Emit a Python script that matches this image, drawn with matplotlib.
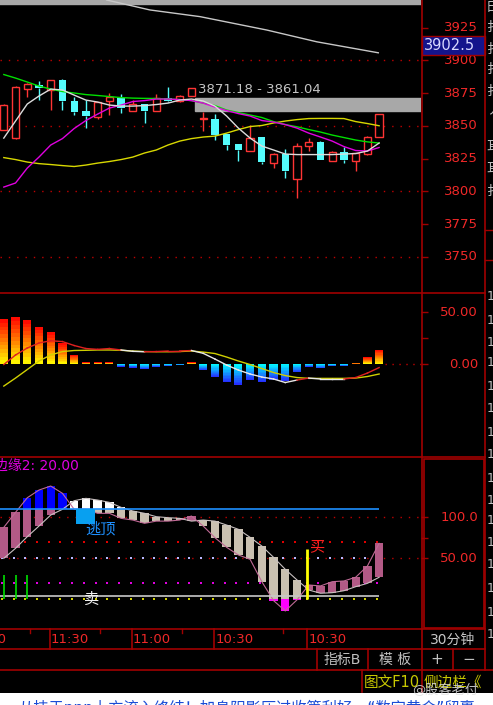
import matplotlib
matplotlib.use('Agg')
import matplotlib.pyplot as plt
import matplotlib.transforms as mtransforms
from matplotlib.patches import Rectangle
import numpy as np

plt.rcParams['font.family'] = ['DejaVu Sans', 'Noto Sans CJK SC']

# ---- price panel (30 min candles) ----
opens = [3847, 3840.4, 3878, 3881, 3877, 3885, 3869, 3861.2, 3857, 3869, 3871, 3861.5, 3866.3,
         3861.5, 3871, 3869, 3873, 3855, 3855.1, 3843.7, 3836, 3831, 3841.1, 3821.8, 3828.4,
         3809, 3834.7, 3837.8, 3823.3, 3829.7, 3823, 3828.4, 3841.6]
highs = [3866.5, 3880, 3882.5, 3884, 3885, 3885.5, 3872, 3869.6, 3868.5, 3875, 3874, 3870, 3866.5,
         3874, 3879.3, 3873.5, 3879, 3860.7, 3858.7, 3844, 3836.3, 3850.5, 3841.5, 3829, 3832,
         3837, 3841, 3838.3, 3831, 3834, 3829.3, 3842, 3859]
lows = [3846.5, 3840, 3872, 3870, 3862, 3862, 3858, 3848.5, 3855, 3858, 3859.7, 3861, 3852.3,
        3861, 3868.5, 3868.5, 3872.5, 3846, 3839, 3831.5, 3823, 3830.5, 3820.5, 3817.5, 3809.8,
        3794.6, 3831, 3823.5, 3823, 3821.3, 3815.6, 3828, 3841.3]
closes = [3866, 3879.3, 3882, 3878.5, 3884.7, 3869, 3860.7, 3857.4, 3868.3, 3871.6, 3863.3, 3866.3,
          3861.5, 3871, 3869, 3873, 3878.5, 3855.6, 3842.9, 3835.3, 3831.5, 3841, 3822.5, 3828.4,
          3815.6, 3834.7, 3837.8, 3823.8, 3830.2, 3823.8, 3828.9, 3841.6, 3858.7]

ma_white = [3840.6, 3853.6, 3866.6, 3872.7, 3878.0, 3877.3, 3873.4, 3869.6, 3868.1, 3865.8, 3865.0,
            3865.0, 3865.4, 3866.2, 3867.3, 3869.6, 3870.4, 3868.9, 3865.0, 3857.4, 3848.2, 3840.6,
            3834.5, 3831.5, 3828.4, 3828.0, 3828.0, 3828.0, 3828.0, 3828.4, 3828.8, 3830.7, 3836.8]
ma_green = [3889.1, 3886.4, 3883.4, 3880.3, 3878.0, 3876.1, 3875.0, 3873.8, 3873.1, 3872.3, 3871.5,
            3871.1, 3870.9, 3870.8, 3870.4, 3870.0, 3869.2, 3867.3, 3865.4, 3862.0, 3860.1, 3858.2,
            3856.3, 3853.2, 3850.9, 3849.2, 3847.1, 3845.2, 3842.9, 3841.0, 3839.1, 3837.7, 3836.8]
ma_magenta = [3803.2, 3806.3, 3817.7, 3826.1, 3835.3, 3840.2, 3847.9, 3854.0, 3858.9, 3863.5, 3865.8,
              3868.5, 3869.2, 3870.4, 3870.4, 3870.0, 3869.2, 3867.3, 3864.3, 3861.6, 3859.3, 3857.4,
              3854.0, 3852.8, 3850.9, 3848.2, 3844.4, 3841.4, 3838.3, 3834.1, 3831.1, 3830.7, 3833.4]
ma_yellow = [3825.7, 3824.2, 3822.3, 3821.1, 3820.4, 3819.6, 3818.9, 3820.0, 3821.5, 3822.7, 3824.2,
             3826.1, 3829.2, 3831.5, 3835.3, 3838.3, 3840.2, 3841.4, 3842.1, 3844.4, 3847.1, 3849.4,
             3850.2, 3852.1, 3853.6, 3854.7, 3855.5, 3855.6, 3855.6, 3855.5, 3853.2, 3851.7, 3850.0]

trend_x = [8.77, 12.46, 16.73, 22.41, 26.68, 31.93]
trend_y = [3946.0, 3938.4, 3933.3, 3923.1, 3914.1, 3905.7]

zone_start = 16.3
zone_hi, zone_lo = 3871.18, 3861.04
top_zone_lo = 3942.7
last_price = 3902.5
price_ticks = [3750, 3775, 3800, 3825, 3850, 3875, 3900, 3925]
price_grid = [3750, 3800, 3850, 3900]

# ---- MACD panel ----
macd_bar = [43.3, 44.9, 42.3, 35.3, 30.5, 19.9, 8.7, 1.6, 1.6, 1.6, -2.5, -3.5, -5.1, -2.6, -2.0,
            -1.0, 1.6, -5.8, -12.8, -17.6, -20.2, -15.4, -17.6, -15.4, -16.3, -8.0, -2.6, -4.2,
            -2.0, -2.0, 1.0, 6.4, 13.5]
dif = [-0.5, 8.7, 15.4, 20.2, 22.4, 21.6, 17.8, 14.9, 14.1, 14.9, 13.5, 12.2, 11.8, 12.0, 12.5,
       12.5, 13.0, 10.3, 4.8, -1.0, -5.8, -9.6, -12.5, -14.4, -17.8, -15.4, -13.5, -14.4, -14.4,
       -14.4, -13.0, -8.7, -3.4]
dea = [-21.2, -13.5, -5.3, 2.9, 8.7, 12.0, 13.0, 13.2, 13.5, 13.5, 13.2, 12.5, 12.0, 11.8, 11.8,
       12.0, 12.5, 11.5, 10.1, 6.7, 2.9, -0.5, -4.3, -8.2, -11.1, -13.0, -13.8, -13.8, -13.8,
       -13.8, -13.5, -12.0, -9.6]

# ---- bottom indicator panel ----
k_open = [49.6, 61.8, 76.0, 89.0, 102.4, 109.4, 119.9, 122.8, 120.7, 117.9, 111.8, 107.3, 104.5,
          100.4, 99.2, 98.4, 95.0, 96.3, 95.0, 90.2, 85.0, 75.2, 64.6, 50.8, 36.2, 23.2, 11.0, 7.0,
          7.7, 10.1, 15.0, 19.1, 26.5]
k_close = [87.4, 105.7, 123.5, 132.9, 137.8, 128.9, 109.4, 109.4, 104.5, 104.5, 98.4, 96.3, 92.3,
           95.0, 95.0, 96.3, 101.2, 89.0, 74.8, 63.0, 53.7, 48.4, 21.1, -2.0, -14.6, -1.0, 17.1,
           15.9, 21.1, 22.0, 26.5, 40.2, 67.9]
edge_hi = 110
edge_lo = 4
edge2 = 20.00
sell_idx = [0, 1, 2]
sell_top = 29.3
top_idx = 7
top_box = (91.1, 109.4)
buy_idx = 26
buy_top = 60.6

time_pos = [-3.15, 3.9, 10.9, 17.9, 25.85]
time_labels = ['10:00', '11:30', '11:00', '10:30', '10:30']
minor_time = [2.2, 8.2, 15.2, 23.8]

# ---- colours ----
FRAME = '#a00000'
LABEL = '#f02828'
DOT = '#c00000'
UP = '#ff3434'
DOWN = '#54fcfc'
PINK = '#b25a86'
BEIGE = '#c9c0b0'

W, H = 493, 705
fig = plt.figure(figsize=(W / 100, H / 100), dpi=100, facecolor='black')


def px_axes(x0, y0, x1, y1):
    return fig.add_axes([x0 / W, 1 - y1 / H, (x1 - x0) / W, (y1 - y0) / H])


ax1 = px_axes(0, 0, 421, 292)
ax2 = px_axes(0, 293, 421, 457)
ax3 = px_axes(0, 458, 421, 629)
XMIN, XMAX = -0.324, 35.57
for ax in (ax1, ax2, ax3):
    ax.set_facecolor('black')
    ax.set_xlim(XMIN, XMAX)
    for s in ax.spines.values():
        s.set_visible(False)
    ax.set_xticks([])
    ax.yaxis.tick_right()
    ax.tick_params(axis='y', colors=FRAME, length=5, width=1, labelright=False, labelleft=False)


def right_labels(ax, vals, texts, size=9.5):
    tr = mtransforms.blended_transform_factory(ax.transAxes, ax.transData)
    for v, t in zip(vals, texts):
        ax.text(478 / 421, v, t, transform=tr, ha='right', va='center', color=LABEL,
                fontsize=size, clip_on=False)


# ---------- price panel ----------
ax1.set_ylim(3723.1, 3946)
ax1.set_yticks(price_ticks)
right_labels(ax1, price_ticks, [str(v) for v in price_ticks])
for g in price_grid:
    ax1.axhline(g, color=DOT, ls=(0, (1, 5)), lw=1, zorder=0)

ax1.add_patch(Rectangle((XMIN - 1, top_zone_lo), 40, 30, color='#a8a8a8', zorder=1))
ax1.add_patch(Rectangle((zone_start, zone_lo), 40, zone_hi - zone_lo, color='#a8a8a8', zorder=1))
ax1.text(zone_start + 0.25, zone_hi + 3.5, f'{zone_hi:.2f} - {zone_lo:.2f}', color='#c4c4c4',
         fontsize=9.5, va='baseline', zorder=5)
ax1.plot(trend_x, trend_y, color='#c8c8c8', lw=1, zorder=3)

xs = np.arange(len(opens))
for x, o, h, l, c in zip(xs, opens, highs, lows, closes):
    up = c >= o
    col = UP if up else DOWN
    top, bot = max(o, c), min(o, c)
    ax1.vlines(x, top, h, color=col, lw=1, zorder=2)
    ax1.vlines(x, l, bot, color=col, lw=1, zorder=2)
    if up:
        ax1.bar(x, max(top - bot, 0.4), bottom=bot, width=0.62, facecolor='black',
                edgecolor=col, lw=1, zorder=2)
    else:
        ax1.bar(x, top - bot, bottom=bot, width=0.62, color=col, lw=0, zorder=2)

ax1.plot(xs, ma_yellow, color='#d8d800', lw=1, zorder=3)
ax1.plot(xs, ma_green, color='#00e000', lw=1, zorder=3)
ax1.plot(xs, ma_magenta, color='#e000e0', lw=1, zorder=3)
ax1.plot(xs, ma_white, color='#dcdcdc', lw=1, zorder=4)

# ---------- MACD panel ----------
ax2.set_ylim(-89.4, 68.3)
ax2.set_yticks([0, 25, 50])
right_labels(ax2, [0, 50], ['0.00', '50.00'])
ax2.hlines(0, len(macd_bar) - 0.5, XMAX, color=DOT, ls=(0, (1, 4)), lw=1)
n = 12
for x, v in zip(xs, macd_bar):
    for k in range(n):
        t = (k + 0.5) / n
        if v >= 0:
            col = (1.0, 1.0 - t, 0.0)
        else:
            col = (0.15 * t, 1.0 - 0.85 * t, 1.0)
        ax2.bar(x, v / n, bottom=v * k / n, width=0.7, color=col, lw=0)

ax2.plot(xs, dea, color='#d0d000', lw=1, zorder=3)
for i in range(len(dif) - 1):
    col = '#e02020' if dif[i + 1] >= dea[i + 1] else '#e8e8e8'
    ax2.plot(xs[i:i + 2], dif[i:i + 2], color=col, lw=1, zorder=4)

# ---------- bottom indicator panel ----------
ax3.set_ylim(-36.6, 172)
ax3.set_yticks([50, 75, 100])
right_labels(ax3, [50, 100], ['50.00', '100.0'])
ax3.axhline(100, color=DOT, ls=(0, (1, 5)), lw=1, zorder=0)
ax3.axhline(50, color=DOT, ls=(0, (1, 5)), lw=1, zorder=0)
dots_x = xs - 0.17
ax3.scatter(dots_x, [70] * len(xs), s=2, marker='s', color='#e00000', lw=0, zorder=1)
ax3.scatter(dots_x, [50] * len(xs), s=2, marker='s', color='#b8b8ff', lw=0, zorder=1)
ax3.scatter(dots_x, [edge2] * len(xs), s=2, marker='s', color='#e000e0', lw=0, zorder=1)
ax3.scatter(dots_x, [0] * len(xs), s=2, marker='s', color='#d0d000', lw=0, zorder=1)

for i, (o, c) in enumerate(zip(k_open, k_close)):
    lo, hi = min(o, c), max(o, c)
    rising = c >= o
    segs = [(lo, min(hi, 0), '#ff00ff'),
            (max(lo, 0), min(hi, edge_hi), PINK if rising else BEIGE),
            (max(lo, edge_hi), hi, '#0000ff' if rising else '#ffffff')]
    for b, t, col in segs:
        if t > b:
            ax3.bar(i, t - b, bottom=b, width=0.71, color=col, lw=0, zorder=2)

ax3.plot(xs, k_open, color='#c8c0c0', lw=0.8, zorder=3)
ax3.plot(xs, k_close, color='#c06a96', lw=0.8, zorder=3)
ax3.hlines(edge_hi, XMIN, xs[-1], color='#1e90ff', lw=1.2, zorder=3)
ax3.hlines(edge_lo, XMIN, xs[-1], color='#c8c8c8', lw=1.2, zorder=3)
ax3.vlines(sell_idx, 0, sell_top, color='#00e000', lw=1.2, zorder=3)
ax3.vlines(buy_idx - 0.12, 0, buy_top, color='#ffff00', lw=2, zorder=4)
ax3.bar(top_idx, top_box[1] - top_box[0], bottom=top_box[0], width=1.62, color='#08a0f0',
        lw=0, zorder=4)
ax3.text(top_idx - 0.08, 85.4, '逃顶', color='#1e90ff', fontsize=11, ha='left', va='center', zorder=5)
ax3.text(7.5, 0, '卖', color='#f0f0f0', fontsize=11, ha='center', va='center', zorder=5)
ax3.text(buy_idx + 0.02, 63.4, '买', color='#ff2020', fontsize=11, ha='left', va='center', zorder=5)

# ---------- window chrome (pixel coordinates) ----------
ch = fig.add_axes([0, 0, 1, 1], zorder=10)
ch.set_xlim(0, W)
ch.set_ylim(H, 0)
ch.axis('off')
ch.patch.set_alpha(0)

for y, x1 in [(292.5, 484.5), (457, 484.5), (629.3, 484.5), (649, 484.5), (670, 493)]:
    ch.plot([0, x1], [y, y], color=FRAME, lw=1.2)
ch.plot([421.5, 421.5], [0, 692], color=FRAME, lw=1.2)
ch.plot([484.5, 484.5], [0, 670], color=FRAME, lw=1.2)
ch.add_patch(Rectangle((423.5, 458.5), 60.5, 169.5, fill=False, edgecolor=FRAME, lw=1.2))
for x in [316.7, 368.3, 452.7]:
    ch.plot([x, x], [649, 670], color=FRAME, lw=1.2)
ch.plot([362.3, 362.3], [670, 692], color=FRAME, lw=1.2)

# current price box
ch.add_patch(Rectangle((422, 35.7), 63, 19.3, facecolor='#14148c', edgecolor=FRAME, lw=1))
ch.text(423.5, 45.5, f'{last_price:.1f}', color='#d8d8ff', fontsize=10.5, va='center', ha='left')

# time axis
tr_t = mtransforms.blended_transform_factory(ax3.transData, ch.transData)
for p, lab in zip(time_pos, time_labels):
    ch.plot([p, p], [629.3, 649], color=FRAME, lw=1.2, transform=tr_t, clip_on=False)
    ch.text(p + 0.12, 639.5, lab, color=LABEL, fontsize=9.5, va='center', ha='left',
            transform=tr_t, clip_on=False)
for p in minor_time:
    ch.plot([p, p], [629.3, 633], color=FRAME, lw=1, transform=tr_t, clip_on=False)
ch.text(452.5, 639.5, '30分钟', color='#c8c8c8', fontsize=10, ha='center', va='center')

# edge label of the indicator
ch.text(-5.5, 466, f'边缘2: {edge2:.2f}', color='#e000e0', fontsize=10, ha='left', va='center')

# buttons
ch.text(342, 660, '指标B', color='#c0c0c0', fontsize=10, ha='center', va='center')
ch.text(395, 660, '模 板', color='#c0c0c0', fontsize=10, ha='center', va='center')
ch.text(437, 660, '+', color='#c0c0c0', fontsize=11, ha='center', va='center')
ch.text(468.5, 660, '−', color='#c0c0c0', fontsize=11, ha='center', va='center')
ch.text(363.5, 682, '图文F10', color='#c8c800', fontsize=10.5, ha='left', va='center')
ch.text(423.5, 682, '侧边栏《', color='#c8c800', fontsize=10.5, ha='left', va='center')
ch.text(478, 690, '@股客老付', color='#e0e0e0', fontsize=9.5, ha='right', va='center', alpha=0.85)

# right-hand cut column
side_y = [7, 28, 50, 70, 92, 110, 147, 170, 192]
for y, s in zip(side_y, '日扌扌扌扌丿耳耳扌'):
    ch.text(486, y, s, color='#c0c0c0', fontsize=9.5, ha='left', va='center')
for y in [230, 260]:
    ch.plot([484.5, 493], [y, y], color=FRAME, lw=1)
for y in [297, 320, 342, 363, 387, 408, 432, 455, 478, 500, 520, 542, 565, 588, 613, 635]:
    ch.text(487, y, '1', color='#c0c0c0', fontsize=9, ha='left', va='center')

# bottom news strip
ch.add_patch(Rectangle((0, 692.5), W, 13, facecolor='white', edgecolor='none'))
ch.text(18, 699.5, '从技于ppp上方流入终结！加息阴影压过收篇利好，“数字黄金”留裹',
        color='#1a4cd6', fontsize=11, ha='left', va='top')

fig.savefig('out.png', dpi=100, facecolor='black')
